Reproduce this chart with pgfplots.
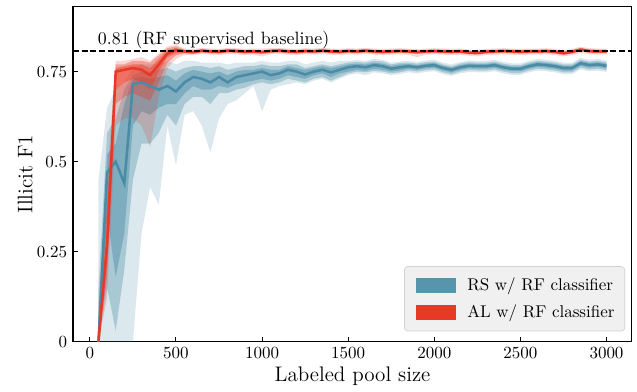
\documentclass[border=0pt]{standalone}
\usepackage{pgfplots}
\pgfplotsset{compat=1.18}
\usepackage{pgfplotstable}
\usepgfplotslibrary{fillbetween}
\definecolor{rscol}{RGB}{74,140,165}
\definecolor{alcol}{RGB}{232,56,38}
\pgfplotstableread{
x med q1 q3 lo hi mn mx
50 0.00 0.00 0.05 0.00 0.15 0.00 0.45
100 0.47 0.35 0.52 0.15 0.58 0.00 0.65
150 0.50 0.18 0.55 0.03 0.62 0.00 0.70
200 0.44 0.30 0.66 0.20 0.70 0.00 0.72
250 0.715 0.60 0.73 0.45 0.74 0.00 0.76
300 0.72 0.64 0.735 0.55 0.75 0.30 0.77
350 0.71 0.63 0.73 0.55 0.75 0.43 0.77
400 0.70 0.65 0.735 0.58 0.755 0.38 0.77
450 0.71 0.66 0.74 0.63 0.76 0.60 0.78
500 0.695 0.66 0.725 0.60 0.75 0.49 0.77
550 0.72 0.69 0.745 0.66 0.76 0.63 0.78
600 0.735 0.71 0.755 0.68 0.765 0.64 0.78
650 0.73 0.70 0.75 0.68 0.765 0.60 0.775
700 0.72 0.70 0.745 0.66 0.76 0.525 0.775
750 0.735 0.71 0.75 0.69 0.765 0.62 0.775
800 0.72 0.705 0.74 0.69 0.755 0.66 0.77
850 0.735 0.715 0.75 0.70 0.76 0.67 0.775
900 0.74 0.72 0.755 0.705 0.765 0.69 0.775
950 0.745 0.725 0.755 0.715 0.765 0.71 0.775
1000 0.75 0.73 0.76 0.72 0.77 0.64 0.78
1050 0.74 0.725 0.755 0.715 0.765 0.70 0.775
1100 0.745 0.73 0.755 0.72 0.765 0.71 0.775
1150 0.755 0.74 0.765 0.73 0.77 0.715 0.78
1200 0.75 0.735 0.76 0.725 0.77 0.72 0.78
1250 0.742 0.73 0.755 0.72 0.76 0.715 0.77
1300 0.75 0.74 0.76 0.73 0.765 0.725 0.775
1350 0.755 0.745 0.765 0.735 0.77 0.73 0.78
1400 0.748 0.735 0.76 0.725 0.765 0.72 0.775
1450 0.755 0.745 0.765 0.735 0.77 0.73 0.78
1500 0.762 0.75 0.77 0.745 0.775 0.74 0.78
1550 0.765 0.755 0.772 0.75 0.777 0.745 0.782
1600 0.762 0.752 0.77 0.748 0.775 0.74 0.78
1650 0.768 0.758 0.775 0.752 0.78 0.748 0.785
1700 0.765 0.755 0.772 0.75 0.778 0.745 0.783
1750 0.758 0.75 0.766 0.745 0.77 0.74 0.775
1800 0.762 0.753 0.77 0.748 0.774 0.743 0.778
1850 0.765 0.758 0.771 0.753 0.775 0.748 0.780
1900 0.762 0.755 0.768 0.750 0.772 0.745 0.777
1950 0.766 0.759 0.772 0.754 0.776 0.749 0.781
2000 0.768 0.761 0.774 0.756 0.778 0.751 0.783
2050 0.760 0.753 0.766 0.748 0.770 0.743 0.775
2100 0.755 0.748 0.761 0.743 0.765 0.738 0.770
2150 0.762 0.755 0.768 0.750 0.772 0.745 0.777
2200 0.766 0.759 0.772 0.754 0.776 0.749 0.781
2250 0.765 0.758 0.771 0.753 0.775 0.748 0.780
2300 0.765 0.758 0.771 0.753 0.775 0.748 0.780
2350 0.768 0.761 0.774 0.756 0.778 0.751 0.783
2400 0.762 0.755 0.768 0.750 0.772 0.745 0.777
2450 0.758 0.751 0.764 0.746 0.768 0.741 0.773
2500 0.758 0.751 0.764 0.746 0.768 0.741 0.773
2550 0.765 0.758 0.771 0.753 0.775 0.748 0.780
2600 0.770 0.763 0.776 0.758 0.780 0.753 0.785
2650 0.768 0.761 0.774 0.756 0.778 0.751 0.783
2700 0.765 0.758 0.771 0.753 0.775 0.748 0.780
2750 0.760 0.753 0.766 0.748 0.770 0.743 0.775
2800 0.760 0.753 0.766 0.748 0.770 0.743 0.775
2850 0.773 0.766 0.779 0.761 0.783 0.756 0.788
2900 0.768 0.761 0.774 0.756 0.778 0.751 0.783
2950 0.770 0.763 0.776 0.758 0.780 0.753 0.785
3000 0.766 0.759 0.772 0.754 0.776 0.749 0.781
}\rs
\pgfplotstableread{
x med q1 q3 lo hi mn mx
50 0.00 0.00 0.02 0.00 0.05 0.00 0.10
100 0.27 0.22 0.32 0.18 0.38 0.12 0.45
150 0.75 0.70 0.76 0.66 0.77 0.60 0.78
200 0.755 0.72 0.765 0.68 0.77 0.62 0.78
250 0.76 0.73 0.77 0.69 0.78 0.62 0.785
300 0.755 0.72 0.77 0.68 0.78 0.60 0.79
350 0.74 0.70 0.76 0.67 0.775 0.54 0.78
400 0.77 0.75 0.785 0.72 0.795 0.68 0.80
450 0.80 0.79 0.81 0.775 0.815 0.76 0.82
500 0.81 0.80 0.815 0.795 0.82 0.785 0.825
550 0.806 0.803 0.809 0.801 0.811 0.797 0.814
600 0.804 0.801 0.807 0.799 0.809 0.795 0.812
650 0.808 0.805 0.811 0.803 0.813 0.799 0.816
700 0.806 0.803 0.809 0.801 0.811 0.797 0.814
750 0.805 0.802 0.808 0.800 0.810 0.796 0.813
800 0.808 0.805 0.811 0.803 0.813 0.799 0.816
850 0.807 0.804 0.810 0.802 0.812 0.798 0.815
900 0.805 0.802 0.808 0.800 0.810 0.796 0.813
950 0.806 0.803 0.809 0.801 0.811 0.797 0.814
1000 0.804 0.801 0.807 0.799 0.809 0.792 0.814
1050 0.807 0.804 0.810 0.802 0.812 0.798 0.815
1100 0.808 0.805 0.811 0.803 0.813 0.799 0.816
1150 0.806 0.803 0.809 0.801 0.811 0.797 0.814
1200 0.805 0.802 0.808 0.800 0.810 0.796 0.813
1250 0.807 0.804 0.810 0.802 0.812 0.798 0.815
1300 0.806 0.803 0.809 0.801 0.811 0.797 0.814
1350 0.808 0.805 0.811 0.803 0.813 0.799 0.816
1400 0.806 0.803 0.809 0.801 0.811 0.797 0.814
1450 0.805 0.802 0.808 0.800 0.810 0.796 0.813
1500 0.807 0.804 0.810 0.802 0.812 0.798 0.815
1550 0.806 0.803 0.809 0.801 0.811 0.797 0.814
1600 0.808 0.805 0.811 0.803 0.813 0.799 0.816
1650 0.806 0.803 0.809 0.801 0.811 0.797 0.814
1700 0.805 0.802 0.808 0.800 0.810 0.796 0.813
1750 0.806 0.803 0.809 0.801 0.811 0.797 0.814
1800 0.807 0.804 0.810 0.802 0.812 0.798 0.815
1850 0.806 0.803 0.809 0.801 0.811 0.797 0.814
1900 0.804 0.801 0.807 0.799 0.809 0.790 0.812
1950 0.806 0.803 0.809 0.801 0.811 0.797 0.814
2000 0.807 0.804 0.810 0.802 0.812 0.798 0.815
2050 0.806 0.803 0.809 0.801 0.811 0.797 0.814
2100 0.805 0.802 0.808 0.800 0.810 0.796 0.813
2150 0.806 0.803 0.809 0.801 0.811 0.797 0.814
2200 0.803 0.800 0.806 0.798 0.808 0.794 0.811
2250 0.802 0.799 0.805 0.797 0.807 0.793 0.810
2300 0.805 0.802 0.808 0.800 0.810 0.796 0.813
2350 0.806 0.803 0.809 0.801 0.811 0.797 0.814
2400 0.807 0.804 0.810 0.802 0.812 0.798 0.815
2450 0.806 0.803 0.809 0.801 0.811 0.797 0.814
2500 0.805 0.802 0.808 0.800 0.810 0.796 0.813
2550 0.806 0.803 0.809 0.801 0.811 0.797 0.814
2600 0.806 0.803 0.809 0.801 0.811 0.797 0.814
2650 0.807 0.804 0.810 0.802 0.812 0.798 0.815
2700 0.805 0.802 0.808 0.800 0.810 0.796 0.813
2750 0.801 0.798 0.804 0.796 0.806 0.792 0.809
2800 0.805 0.802 0.808 0.800 0.810 0.796 0.813
2850 0.811 0.808 0.814 0.806 0.816 0.802 0.819
2900 0.807 0.804 0.810 0.802 0.812 0.798 0.815
2950 0.806 0.803 0.809 0.801 0.811 0.797 0.814
3000 0.806 0.803 0.809 0.801 0.811 0.797 0.814
}\al
\begin{document}
\begin{tikzpicture}
\path (-43pt,-27pt) rectangle (331.8pt,201pt);
\begin{axis}[
  scale only axis, width=328.8pt, height=197pt,
  xmin=-97.5, xmax=3147.5, ymin=0, ymax=0.93,
  xtick={0,500,1000,1500,2000,2500,3000},
  ytick={0,0.25,0.5,0.75},
  yticklabels={0,0.25,0.5,0.75},
  tick align=inside, xtick pos=lower, ytick pos=left,
  major tick length=3pt,
  tick style={black, line width=0.6pt},
  axis line style={line width=0.7pt},
  x tick label style={/pgf/number format/1000 sep={}},
  tick label style={font=\fontsize{10}{12}\selectfont},
  xlabel={Labeled pool size}, ylabel={Illicit F1},
  label style={font=\fontsize{12.4}{14}\selectfont},
  xlabel style={at={(axis description cs:0.5,-0.119)}, anchor=base},
  ylabel style={at={(axis description cs:-0.073,0.5)}, anchor=base},
  legend style={at={(axis description cs:1,0)}, anchor=south east, xshift=-4pt, yshift=6pt,
    fill=black!6, draw=black!18, rounded corners=2pt, font=\fontsize{10}{12}\selectfont,
    row sep=3pt, inner xsep=4pt, inner ysep=4.5pt},
  legend cell align=left,
]
\addlegendimage{legend image code/.code={\path[draw=none, fill=none] (-3pt,0pt) rectangle (28pt,0pt); \fill[rscol!92, sharp corners] (0pt,-4pt) rectangle (23pt,4pt);}}
\addlegendentry{RS w/ RF classifier}
\addlegendimage{legend image code/.code={\path[draw=none, fill=none] (-3pt,0pt) rectangle (28pt,0pt); \fill[alcol, sharp corners] (0pt,-4pt) rectangle (23pt,4pt);}}
\addlegendentry{AL w/ RF classifier}
% RS bands
\addplot[draw=none, name path=rsmn, forget plot] table[x=x,y=mn]{\rs};
\addplot[draw=none, name path=rsmx, forget plot] table[x=x,y=mx]{\rs};
\addplot[draw=none, name path=rslo, forget plot] table[x=x,y=lo]{\rs};
\addplot[draw=none, name path=rshi, forget plot] table[x=x,y=hi]{\rs};
\addplot[draw=none, name path=rsq1, forget plot] table[x=x,y=q1]{\rs};
\addplot[draw=none, name path=rsq3, forget plot] table[x=x,y=q3]{\rs};
\addplot[fill=rscol, fill opacity=0.2, draw=none, forget plot] fill between[of=rsmx and rsmn];
\addplot[fill=rscol, fill opacity=0.35, draw=none, forget plot] fill between[of=rshi and rslo];
\addplot[fill=rscol, fill opacity=0.45, draw=none, forget plot] fill between[of=rsq3 and rsq1];
\addplot[rscol, line width=1.5pt, forget plot] table[x=x,y=med]{\rs};
% AL bands
\addplot[draw=none, name path=almn, forget plot] table[x=x,y=mn]{\al};
\addplot[draw=none, name path=almx, forget plot] table[x=x,y=mx]{\al};
\addplot[draw=none, name path=allo, forget plot] table[x=x,y=lo]{\al};
\addplot[draw=none, name path=alhi, forget plot] table[x=x,y=hi]{\al};
\addplot[draw=none, name path=alq1, forget plot] table[x=x,y=q1]{\al};
\addplot[draw=none, name path=alq3, forget plot] table[x=x,y=q3]{\al};
\addplot[fill=alcol, fill opacity=0.2, draw=none, forget plot] fill between[of=almx and almn];
\addplot[fill=alcol, fill opacity=0.35, draw=none, forget plot] fill between[of=alhi and allo];
\addplot[fill=alcol, fill opacity=0.45, draw=none, forget plot] fill between[of=alq3 and alq1];
\addplot[alcol, line width=1.5pt, forget plot] table[x=x,y=med]{\al};
% baseline
\addplot[black, line width=0.8pt, dash pattern=on 3.5pt off 1.6pt, forget plot] coordinates {(-97.5,0.807) (3147.5,0.807)};
\node[anchor=base west, inner sep=0pt, font=\fontsize{10.5}{12}\selectfont] at (axis cs:45,0.826) {0.81 (RF supervised baseline)};
\end{axis}
\end{tikzpicture}
\end{document}
